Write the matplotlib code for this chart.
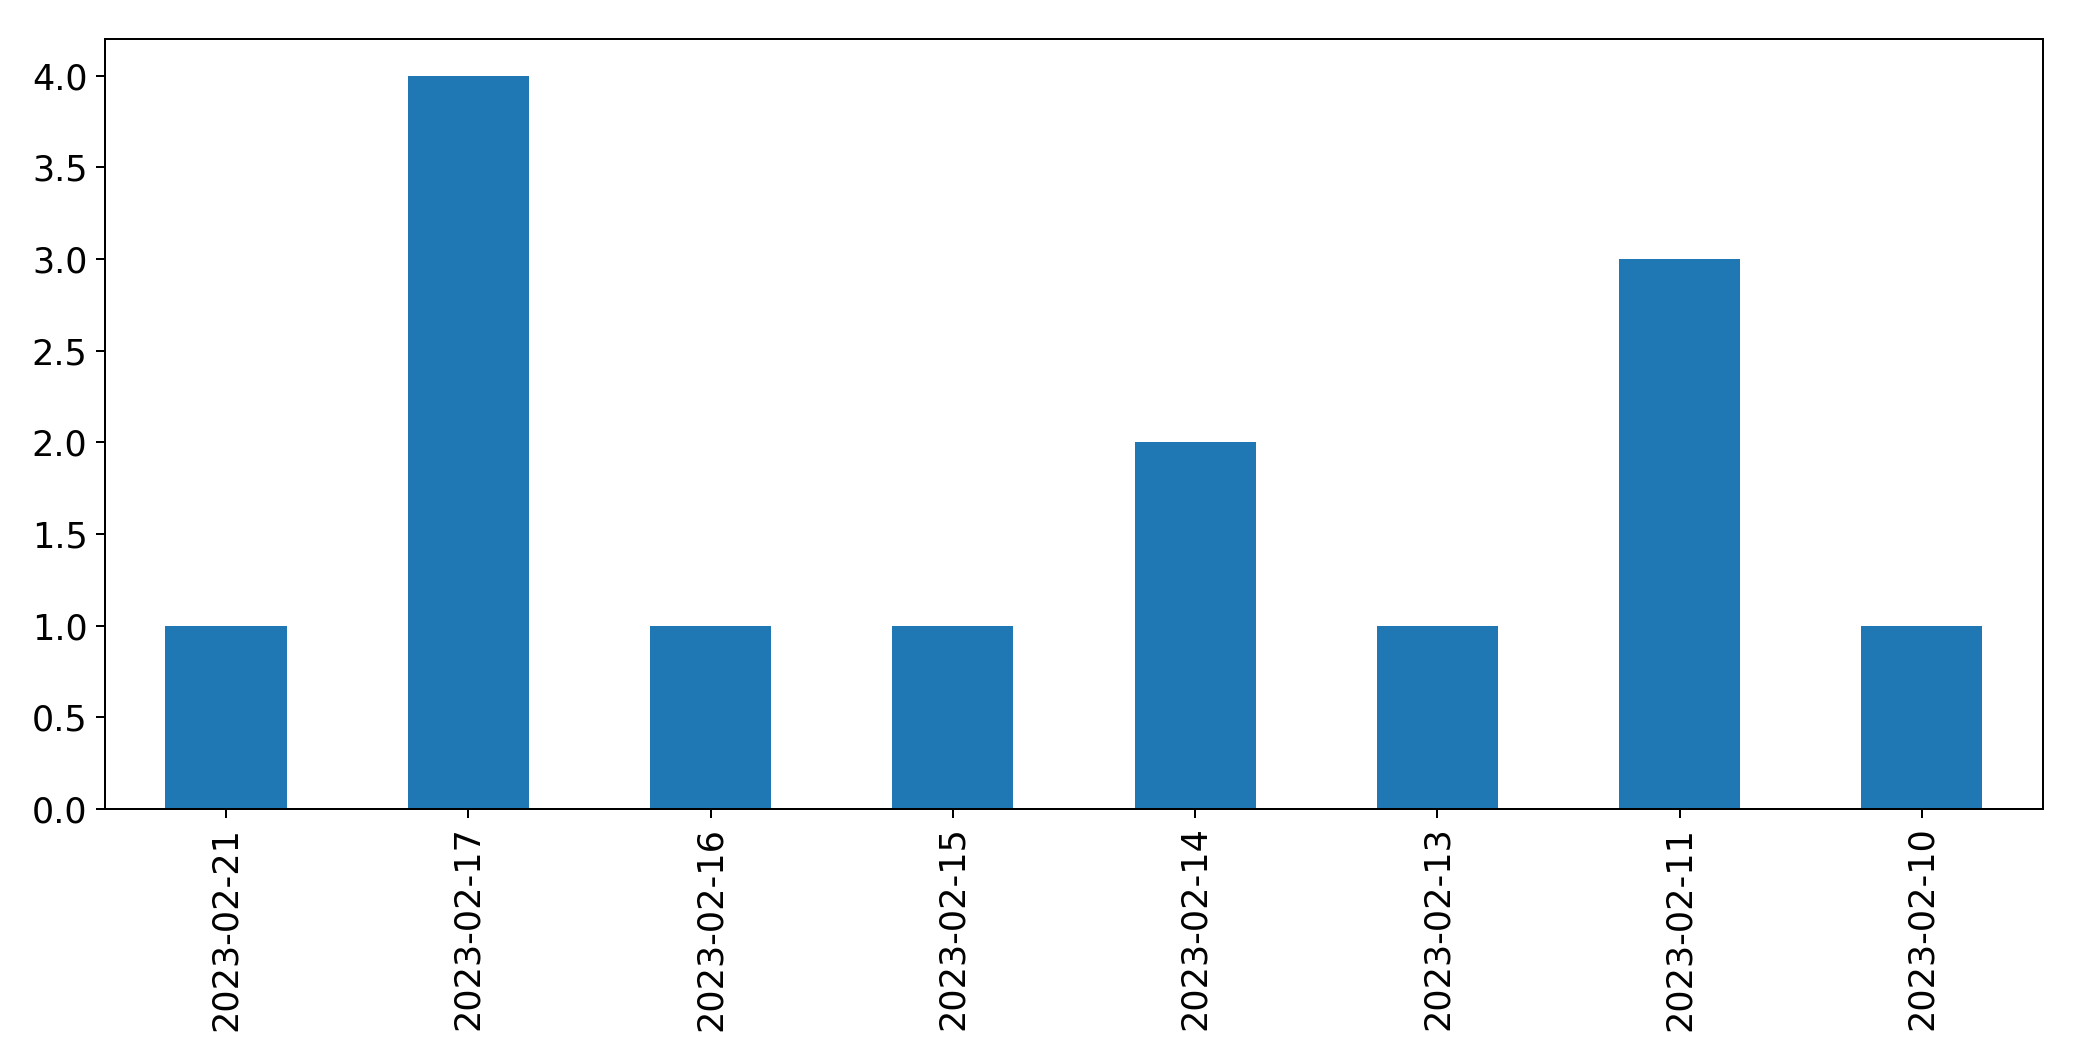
import matplotlib
matplotlib.use('Agg')
import matplotlib.pyplot as plt
import numpy as np

dates = ['2023-02-21', '2023-02-17', '2023-02-16', '2023-02-15',
         '2023-02-14', '2023-02-13', '2023-02-11', '2023-02-10']
counts = [1, 4, 1, 1, 2, 1, 3, 1]

fig = plt.figure(figsize=(2082 / 180, 1061 / 180), dpi=180)
ax = fig.add_axes([0.0504, 0.2375, 0.9309, 0.7257])

x = np.arange(len(dates))
ax.bar(x, counts, width=0.5, color='#1f77b4')
ax.set_xlim(-0.5, len(dates) - 0.5)
ax.set_ylim(0, 4.2)
ax.set_xticks(x)
ax.set_xticklabels(dates, rotation=90, fontsize=14)
ax.set_yticks(np.arange(0, 4.01, 0.5))
ax.tick_params(axis='y', labelsize=14)

fig.savefig('out.png', dpi=180)
print('Done')
